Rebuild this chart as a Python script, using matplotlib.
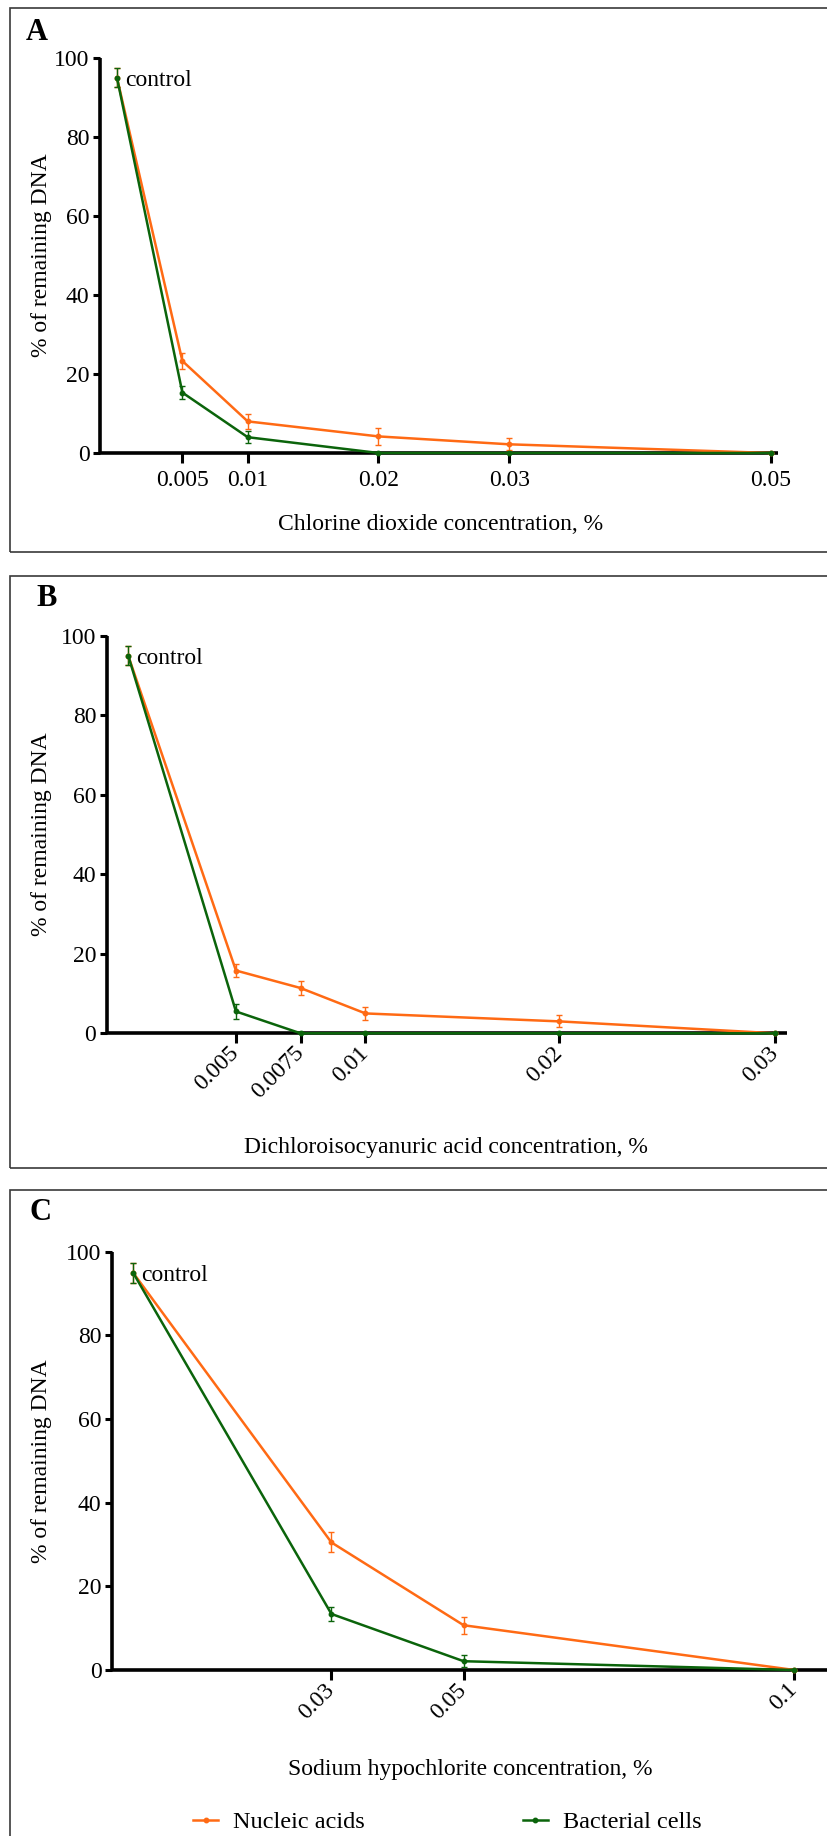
import numpy as np
import matplotlib
matplotlib.use("Agg")
import matplotlib.pyplot as plt
from matplotlib.patches import Rectangle
from matplotlib.lines import Line2D

plt.rcParams['font.family'] = ['Liberation Serif', 'DejaVu Serif']

# ---- data ----
# A: chlorine dioxide
a_conc = [0, 0.005, 0.01, 0.02, 0.03, 0.05]
a_nucl = [95, 23.3, 8.0, 4.2, 2.2, 0]
a_nucl_err = [2.4, 2.0, 1.9, 2.2, 1.55, 0]
a_bact = [95, 15.3, 4.0, 0, 0, 0]
a_bact_err = [2.4, 1.7, 1.5, 0, 0, 0]
a_ticks = [0.005, 0.01, 0.02, 0.03, 0.05]
a_labels = ['0.005', '0.01', '0.02', '0.03', '0.05']

# B: dichloroisocyanuric acid
b_conc = [0, 0.005, 0.0075, 0.01, 0.02, 0.03]
b_nucl = [95, 15.8, 11.4, 5.0, 3.0, 0]
b_nucl_err = [2.4, 1.75, 1.7, 1.7, 1.5, 0]
b_bact = [95, 5.5, 0, 0, 0, 0]
b_bact_err = [2.4, 1.9, 0, 0, 0, 0]
b_ticks = [0.005, 0.0075, 0.01, 0.02, 0.03]
b_labels = ['0.005', '0.0075', '0.01', '0.02', '0.03']

# C: sodium hypochlorite
c_conc = [0, 0.03, 0.05, 0.1]
c_nucl = [95, 30.5, 10.7, 0]
c_nucl_err = [2.4, 2.4, 2.0, 0]
c_bact = [95, 13.4, 2.1, 0]
c_bact_err = [2.4, 1.7, 1.45, 0]
c_ticks = [0.03, 0.05, 0.1]
c_labels = ['0.03', '0.05', '0.1']

ORANGE = '#ff6a14'
GREEN = '#0b640b'

W, H = 828, 1836
fig = plt.figure(figsize=(W / 100, H / 100), dpi=100)


def rect(x0, x1, ytop, ybot):
  return [x0 / W, 1 - ybot / H, (x1 - x0) / W, (ybot - ytop) / H]


def style_axes(ax, rotate):
  for s in ['top', 'right']:
    ax.spines[s].set_visible(False)
  for s in ['left', 'bottom']:
    ax.spines[s].set_linewidth(2.6)
    ax.spines[s].set_capstyle('butt')
  ax.set_ylim(0, 100)
  ax.set_yticks([0, 20, 40, 60, 80, 100])
  ax.tick_params(axis='y', length=5, width=2.2, pad=2.5, labelsize=17)
  ax.tick_params(axis='x', length=7, width=2.2, pad=5, labelsize=17)
  ax.set_ylabel('% of remaining DNA', fontsize=17, va='center')
  pos = ax.get_position()
  ax.yaxis.set_label_coords(-(pos.x0 * W - 42) / (pos.width * W), 0.5)
  if rotate:
    for lab in ax.get_xticklabels():
      lab.set_rotation(45)
      lab.set_ha('right')
      lab.set_va('center')
      lab.set_rotation_mode('anchor')


def draw(ax, x, nucl, nucl_err, bact, bact_err):
  for y, e, c in [(nucl, nucl_err, ORANGE), (bact, bact_err, GREEN)]:
    cont = ax.errorbar(x, y, yerr=e, color=c, lw=1.8, marker='o', ms=3.2,
                       elinewidth=1.0, capsize=2.2, capthick=1.0, zorder=3)
    for art in cont.get_children():
      art.set_clip_on(False)
  ax.annotate('control', xy=(0, 95), xytext=(8, 0), textcoords='offset pixels',
              ha='left', va='center_baseline', fontsize=17)


# panel A
axA = fig.add_axes(rect(100, 778, 58, 453))
draw(axA, a_conc, a_nucl, a_nucl_err, a_bact, a_bact_err)
axA.set_xlim(-0.0013, 0.05056)
axA.set_xticks(a_ticks)
axA.set_xticklabels(a_labels)
style_axes(axA, False)

# panel B - uneven x spacing, as drawn in the original
b_anchor_c = [-0.01, 0, 0.005, 0.0075, 0.01, 0.02, 0.03, 0.04]
b_anchor_p = [-88, 128, 235.7, 300.3, 365.3, 559.3, 775.3, 991.3]
axB = fig.add_axes(rect(106.7, 786.7, 636, 1033.3))
axB.set_xscale('function', functions=(lambda v: np.interp(v, b_anchor_c, b_anchor_p),
                                      lambda p: np.interp(p, b_anchor_p, b_anchor_c)))
draw(axB, b_conc, b_nucl, b_nucl_err, b_bact, b_bact_err)
axB.set_xlim(-0.001, 0.03053)
axB.set_xticks(b_ticks)
axB.set_xticklabels(b_labels)
axB.xaxis.set_minor_locator(matplotlib.ticker.NullLocator())
style_axes(axB, True)

# panel C
axC = fig.add_axes(rect(112, 828, 1251.7, 1670))
draw(axC, c_conc, c_nucl, c_nucl_err, c_bact, c_bact_err)
axC.set_xlim(-0.00318, 0.1051)
axC.set_xticks(c_ticks)
axC.set_xticklabels(c_labels)
style_axes(axC, True)

# x labels
fig.text(441 / W, 1 - 525 / H, 'Chlorine dioxide concentration, %', ha='center', va='center', fontsize=17)
fig.text(446 / W, 1 - 1147 / H, 'Dichloroisocyanuric acid concentration, %', ha='center', va='center', fontsize=17)
fig.text(470 / W, 1 - 1770 / H, 'Sodium hypochlorite concentration, %', ha='center', va='center', fontsize=17)

# panel letters
for lx, ly, t in [(37, 32, 'A'), (47, 598, 'B'), (41, 1212, 'C')]:
  fig.text(lx / W, 1 - ly / H, t, ha='center', va='center', fontsize=22, fontweight='bold')

# panel frames (right edge runs off the picture)
for top, bot in [(8, 552), (576, 1168), (1190, 1860)]:
  fig.add_artist(Rectangle((10 / W, 1 - bot / H), 860 / W, (bot - top) / H,
                           transform=fig.transFigure, fill=False, ec='#3a3a3a', lw=1.2))

# legend
handles = [Line2D([], [], color=ORANGE, lw=1.8, marker='o', ms=3.2),
           Line2D([], [], color=GREEN, lw=1.8, marker='o', ms=3.2)]
fig.legend(handles, ['Nucleic acids', 'Bacterial cells'], loc='center left',
           bbox_to_anchor=(193 / W, 1 - 1822 / H), ncol=2, frameon=False,
           handlelength=1.03, handletextpad=0.62, columnspacing=6.5,
           borderpad=0, borderaxespad=0, prop={'size': 17.5})

fig.savefig('out.png', dpi=100)
